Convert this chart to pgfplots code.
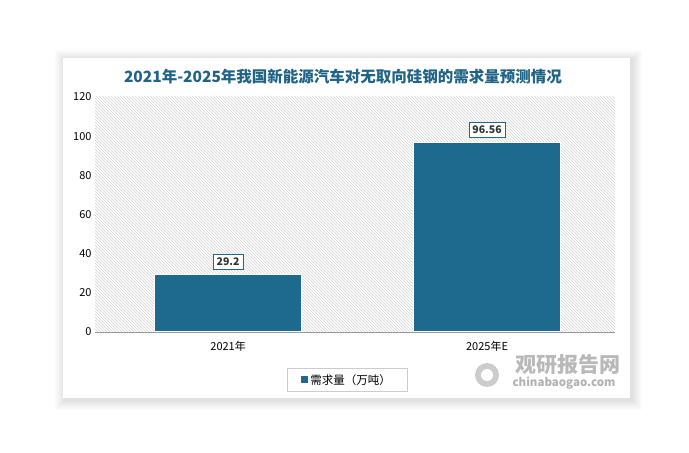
\documentclass[border=0pt]{standalone}
\usepackage{pgfplots}
\pgfplotsset{compat=1.18}
\usepackage{fontspec}
\setmainfont{Noto Sans CJK SC}
\usetikzlibrary{patterns}
\definecolor{barblue}{HTML}{1D6A8E}
\definecolor{titleblue}{HTML}{1F6386}
\definecolor{hatch}{HTML}{D4D4D4}
\begin{document}
\begin{tikzpicture}[x=1pt,y=1pt]
  \path (0,0) rectangle (689,453);
  % soft shadow round the card
  \foreach \i in {1,...,10}{
    \fill[black,opacity=0.012] (63-\i+2,55-\i-2) rectangle (630+\i+2,395+\i-2);
  }
  \fill[white] (63,55) rectangle (630,395);
  \node[font=\bfseries\fontsize{15.5}{17}\selectfont,text=titleblue] at (343,376)
    {2021年-2025年我国新能源汽车对无取向硅钢的需求量预测情况};
  % watermark
  \node[font=\bfseries\fontsize{21}{23}\selectfont,text=gray!55,anchor=west] at (512,88) {观研报告网};
  \node[font=\bfseries\fontsize{11.5}{13}\selectfont,text=gray!60,anchor=west] at (509,70) {chinabaogao.com};
  \fill[gray!40] (487,78) circle (12);
  \fill[white] (487,78) circle (6);
  \begin{axis}[
    at={(95pt,121pt)}, anchor=south west,
    scale only axis,
    width=520pt, height=235pt,
    ymin=0, ymax=120,
    xmin=-0.514, xmax=1.494,
    ytick={0,20,...,120},
    xtick=data,
    xticklabels={2021年,2025年E},
    major tick length=0pt,
    axis lines*=left,
    y axis line style={draw=none},
    x axis line style={draw=gray!80, line width=0.8pt},
    ticklabel style={font=\fontsize{11}{13}\selectfont, text=black},
    /pgf/number format/assume math mode=true,
    xticklabel style={yshift=-6pt},
    axis background/.style={pattern=north west lines, pattern color=hatch},
    ybar, bar width=147pt,
    legend style={at={(0.485,-0.204)}, anchor=center, draw=gray!40,
      font=\fontsize{11.5}{13}\selectfont, inner xsep=14pt, inner ysep=4pt},
    legend image code/.code={\fill[barblue] (0pt,-3pt) rectangle (6pt,3pt);},
    nodes near coords,
    every node near coord/.append style={font=\bfseries\fontsize{10.5}{12}\selectfont,
      text=gray!40!black, fill=white, draw=barblue, line width=0.8pt,
      inner sep=3.5pt, yshift=5pt},
    point meta=explicit symbolic,
  ]
  \addplot[fill=barblue, draw=white, line width=1pt]
    coordinates {(0,29.2) [29.2] (1,96.56) [96.56]};
  \addlegendentry{需求量（万吨）}
  \end{axis}
\end{tikzpicture}
\end{document}
